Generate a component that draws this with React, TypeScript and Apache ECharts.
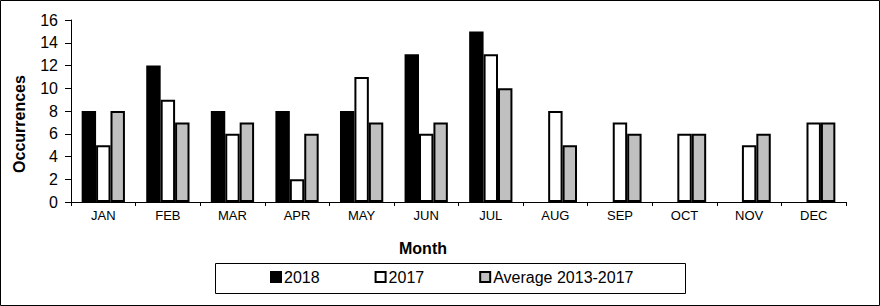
import React, { useEffect, useRef } from "react";
import * as echarts from "echarts";

const months = ["JAN", "FEB", "MAR", "APR", "MAY", "JUN", "JUL", "AUG", "SEP", "OCT", "NOV", "DEC"];
const series2018: (number | null)[] = [8, 12, 8, 8, 8, 13, 15, null, null, null, null, null];
const series2017: number[] = [5, 9, 6, 2, 11, 6, 13, 8, 7, 6, 5, 7];
const seriesAvg: number[] = [8, 7, 7, 6, 7, 7, 10, 5, 6, 6, 6, 7];
const seriesNames = ["2018", "2017", "Average 2013-2017"];
const yTicks = { min: 0, max: 16, interval: 2 };
const xTitle = "Month";
const yTitle = "Occurrences";

const FONT = "Arial, 'Liberation Sans', sans-serif";

export default function App() {
  const ref = useRef<HTMLDivElement>(null);
  useEffect(() => {
    document.body.style.margin = "0";
    const chart = echarts.init(ref.current!, undefined, { renderer: "svg" });
    const barStyle = (fill: string) => ({
      color: fill,
      borderColor: "#000",
      borderWidth: 2,
    });
    chart.setOption({
      animation: false,
      backgroundColor: "#fff",
      textStyle: { fontFamily: FONT, color: "#000" },
      grid: { left: 71, right: 34, top: 20, bottom: 104, containLabel: false },
      xAxis: {
        type: "category",
        data: months,
        axisLine: { show: true, lineStyle: { color: "#000", width: 1 } },
        axisTick: { show: true, length: 4, lineStyle: { color: "#000" } },
        axisLabel: { fontFamily: FONT, fontSize: 13, color: "#000", margin: 7 },
        splitLine: { show: false },
      },
      yAxis: {
        type: "value",
        min: yTicks.min,
        max: yTicks.max,
        interval: yTicks.interval,
        axisLine: { show: true, lineStyle: { color: "#000", width: 1 } },
        axisTick: { show: true, length: 6, lineStyle: { color: "#000" } },
        axisLabel: { fontFamily: FONT, fontSize: 16, color: "#000", margin: 13 },
        splitLine: { show: false },
      },
      legend: {
        data: seriesNames,
        left: 270,
        top: 269,
        padding: 0,
        itemGap: 55,
        itemWidth: 10,
        itemHeight: 10,
        icon: "rect",
        textStyle: { fontFamily: FONT, fontSize: 16, color: "#000", padding: [0, 0, 0, -2] },
      },
      graphic: [
        {
          type: "text",
          x: 19,
          y: 124,
          rotation: Math.PI / 2,
          style: {
            text: yTitle,
            font: `bold 16px ${FONT}`,
            fill: "#000",
            align: "center",
            verticalAlign: "middle",
          },
          silent: true,
        },
        {
          type: "text",
          x: 423,
          y: 248,
          style: {
            text: xTitle,
            font: `bold 16px ${FONT}`,
            fill: "#000",
            align: "center",
            verticalAlign: "middle",
          },
          silent: true,
        },
        {
          type: "rect",
          shape: { x: 215.5, y: 263.5, width: 470, height: 30 },
          style: { fill: "none", stroke: "#000", lineWidth: 1 },
          silent: true,
        },
        {
          type: "rect",
          shape: { x: 0.5, y: 0.5, width: 879, height: 305 },
          style: { fill: "none", stroke: "#000", lineWidth: 1 },
          silent: true,
        },
      ],
      series: [
        {
          name: seriesNames[0],
          type: "bar",
          data: series2018,
          barGap: "0%",
          barCategoryGap: "33%",
          itemStyle: barStyle("#000"),
        },
        {
          name: seriesNames[1],
          type: "bar",
          data: series2017,
          barGap: "0%",
          barCategoryGap: "33%",
          itemStyle: barStyle("#fff"),
        },
        {
          name: seriesNames[2],
          type: "bar",
          data: seriesAvg,
          barGap: "0%",
          barCategoryGap: "33%",
          itemStyle: barStyle("#c0c0c0"),
        },
      ],
    });
    return () => chart.dispose();
  }, []);
  return <div ref={ref} style={{ width: 880, height: 306 }} />;
}
